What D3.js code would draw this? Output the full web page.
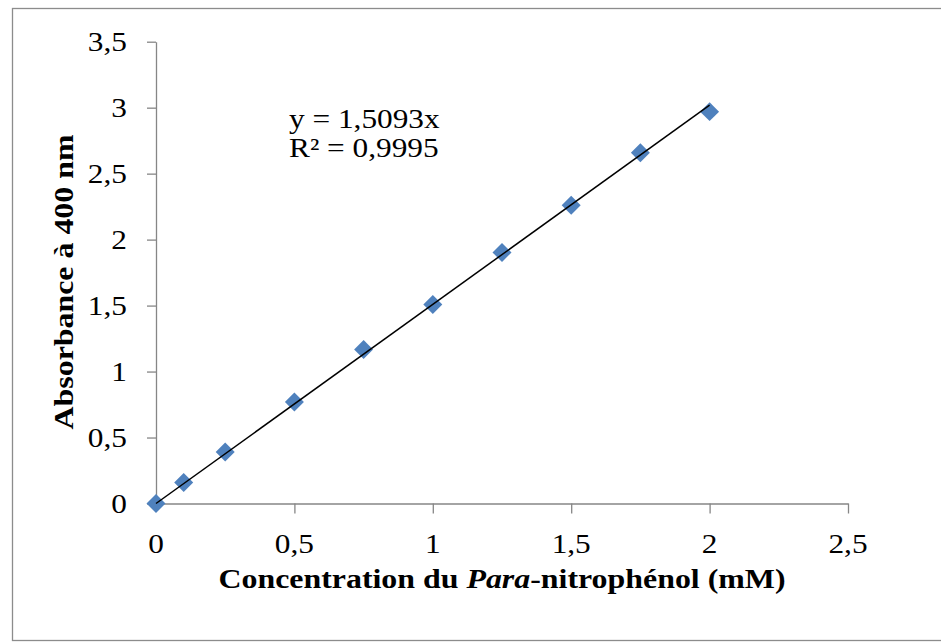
<!DOCTYPE html>
<html lang="fr">
<head>
  <meta charset="UTF-8">
  <title>Courbe d'étalonnage</title>
  <script src="https://d3js.org/d3.v7.min.js"></script>
  <style>
    body { margin: 0; background: #fff; }
    text { font-family: "Liberation Serif", "Times New Roman", serif; fill: #000; }
  </style>
</head>
<body>
  <div id="chart"></div>
  <script>
    // concentrations (mM) and absorbance at 400 nm
    const concentrations = [0, 0.1, 0.25, 0.5, 0.75, 1, 1.25, 1.5, 1.75, 2];
    const absorbances = [0, 0.16, 0.39, 0.77, 1.168, 1.509, 1.903, 2.261, 2.658, 2.97];
    const xTicks = [0.5, 1, 1.5, 2, 2.5];
    const xLabels = [0, 0.5, 1, 1.5, 2, 2.5];
    const yTicks = [0, 0.5, 1, 1.5, 2, 2.5, 3, 3.5];
    const slope = 1.5093;
    const equationLines = ["y = 1,5093x", "R² = 0,9995"];

    const width = 941, height = 643;
    const sx = 1.16; // horizontal stretch of the original text
    const axisColor = "#868686";
    const fmt = d => String(d).replace(".", ",");

    const svg = d3.select("#chart").append("svg")
      .attr("width", width)
      .attr("height", height);

    // outer frame
    svg.append("rect")
      .attr("x", 12.5).attr("y", 8.5)
      .attr("width", 1000).attr("height", 632)
      .attr("fill", "none")
      .attr("stroke", "#8c8c8c")
      .attr("stroke-width", 1.3);

    const x = d3.scaleLinear().domain([0, 2.5]).range([156, 848]);
    const y = d3.scaleLinear().domain([0, 3.5]).range([503.5, 41.7]);

    // y axis
    const gy = svg.append("g")
      .attr("transform", `translate(${x(0)},0)`)
      .call(d3.axisLeft(y).tickValues(yTicks).tickSize(9).tickSizeOuter(0).tickFormat(fmt));
    gy.selectAll("text")
      .attr("x", 0).attr("dy", "0.34em")
      .attr("transform", `translate(-29,0) scale(${sx},1)`)
      .attr("font-size", 27)
      .attr("font-family", null);

    // x axis
    const gx = svg.append("g")
      .attr("transform", `translate(0,${y(0)})`)
      .call(d3.axisBottom(x).tickValues(xTicks).tickSize(10).tickSizeOuter(0).tickFormat(() => ""));
    gx.selectAll("text").remove();
    svg.append("g").selectAll("text")
      .data(xLabels)
      .join("text")
      .attr("text-anchor", "middle")
      .attr("font-size", 27)
      .attr("transform", d => `translate(${x(d)},${y(0) + 49.5}) scale(${sx},1)`)
      .text(fmt);

    [gx, gy].forEach(g => {
      g.selectAll("path, line").attr("stroke", axisColor).attr("stroke-width", 1.3);
    });

    // points
    const diamond = d3.symbol(d3.symbolSquare, 180);
    svg.append("g").selectAll("path")
      .data(concentrations)
      .join("path")
      .attr("d", diamond)
      .attr("transform", (d, i) => `translate(${x(d)},${y(absorbances[i])}) rotate(45)`)
      .attr("fill", "#4f81bd");

    // linear trendline through origin
    const xMax = d3.max(concentrations);
    svg.append("line")
      .attr("x1", x(0)).attr("y1", y(0))
      .attr("x2", x(xMax)).attr("y2", y(slope * xMax))
      .attr("stroke", "#000")
      .attr("stroke-width", 1.5);

    // equation
    svg.append("g").selectAll("text")
      .data(equationLines)
      .join("text")
      .attr("font-size", 27)
      .attr("transform", (d, i) => `translate(289,${128 + i * 29}) scale(${sx},1)`)
      .text(d => d);

    // axis titles
    const xTitle = svg.append("text")
      .attr("text-anchor", "middle")
      .attr("font-size", 27.5)
      .attr("font-weight", "bold")
      .attr("transform", `translate(502,588) scale(${sx},1)`);
    xTitle.append("tspan").text("Concentration du ");
    xTitle.append("tspan").attr("font-style", "italic").text("Para");
    xTitle.append("tspan").text("-nitrophénol (mM)");

    svg.append("text")
      .attr("text-anchor", "middle")
      .attr("font-size", 27.5)
      .attr("font-weight", "bold")
      .attr("transform", `translate(73,282) rotate(-90) scale(${sx},1)`)
      .text("Absorbance à 400 nm");
  </script>
</body>
</html>
